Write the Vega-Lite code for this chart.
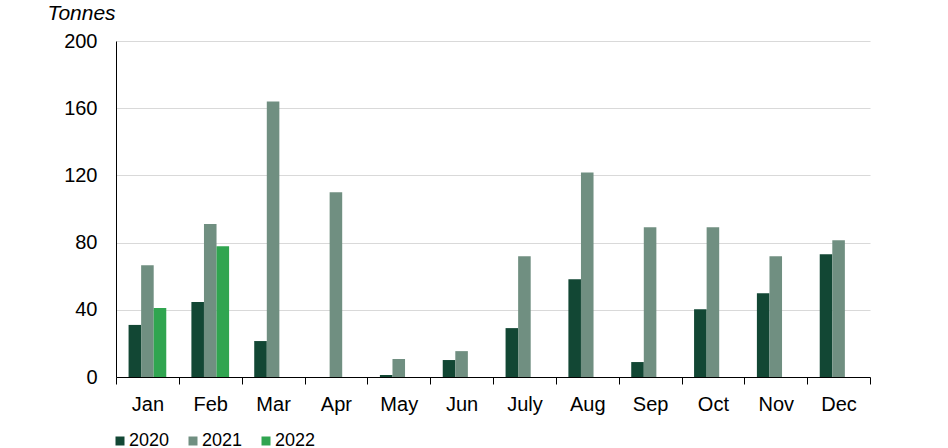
{
  "$schema": "https://vega.github.io/schema/vega-lite/v6.json",
  "width": 754,
  "height": 336,
  "autosize": "none",
  "padding": {"left": 116, "top": 41, "right": 78, "bottom": 71},
  "background": "white",
  "config": {
    "font": "Liberation Sans",
    "view": {"stroke": null}
  },
  "data": {
    "values": [
      {"month": "Jan", "year": "2020", "value": 31},
      {"month": "Jan", "year": "2021", "value": 66.5},
      {"month": "Jan", "year": "2022", "value": 41},
      {"month": "Feb", "year": "2020", "value": 44.6},
      {"month": "Feb", "year": "2021", "value": 91},
      {"month": "Feb", "year": "2022", "value": 77.8},
      {"month": "Mar", "year": "2020", "value": 21.4},
      {"month": "Mar", "year": "2021", "value": 164},
      {"month": "Apr", "year": "2020", "value": 0},
      {"month": "Apr", "year": "2021", "value": 110},
      {"month": "May", "year": "2020", "value": 1.2},
      {"month": "May", "year": "2021", "value": 10.7},
      {"month": "Jun", "year": "2020", "value": 10.1},
      {"month": "Jun", "year": "2021", "value": 15.4},
      {"month": "July", "year": "2020", "value": 29.1},
      {"month": "July", "year": "2021", "value": 71.9},
      {"month": "Aug", "year": "2020", "value": 58.2},
      {"month": "Aug", "year": "2021", "value": 121.8},
      {"month": "Sep", "year": "2020", "value": 8.9},
      {"month": "Sep", "year": "2021", "value": 89.1},
      {"month": "Oct", "year": "2020", "value": 40.4},
      {"month": "Oct", "year": "2021", "value": 89.1},
      {"month": "Nov", "year": "2020", "value": 49.9},
      {"month": "Nov", "year": "2021", "value": 71.9},
      {"month": "Dec", "year": "2020", "value": 73.1},
      {"month": "Dec", "year": "2021", "value": 81.4}
    ]
  },
  "mark": {"type": "bar"},
  "encoding": {
    "x": {
      "field": "month",
      "type": "nominal",
      "sort": ["Jan","Feb","Mar","Apr","May","Jun","July","Aug","Sep","Oct","Nov","Dec"],
      "scale": {"paddingInner": 0, "paddingOuter": 0},
      "axis": {
        "title": null,
        "labelAngle": 0,
        "labelFontSize": 20,
        "labelColor": "black",
        "labelPadding": 10,
        "tickBand": "extent",
        "tickSize": 7,
        "tickColor": "black",
        "domainColor": "black",
        "grid": false
      }
    },
    "xOffset": {
      "field": "year",
      "type": "nominal",
      "scale": {"domain": ["2020","2021","2022"], "paddingInner": 0, "paddingOuter": 1.118}
    },
    "y": {
      "field": "value",
      "type": "quantitative",
      "scale": {"domain": [0, 200], "nice": false},
      "axis": {
        "values": [0, 40, 80, 120, 160, 200],
        "title": "Tonnes",
        "titleAngle": 0,
        "titleFontStyle": "italic",
        "titleFontWeight": "normal",
        "titleFontSize": 21,
        "titleColor": "black",
        "titleAlign": "left",
        "titleBaseline": "alphabetic",
        "titleX": -69,
        "titleY": -22,
        "labelFontSize": 20,
        "labelColor": "black",
        "labelPadding": 19,
        "ticks": false,
        "domainColor": "black",
        "gridColor": "#d9d9d9",
        "gridWidth": 1
      }
    },
    "color": {
      "field": "year",
      "type": "nominal",
      "scale": {"domain": ["2020","2021","2022"], "range": ["#124734", "#708f81", "#30a550"]},
      "legend": {
        "title": null,
        "orient": "none",
        "direction": "horizontal",
        "legendX": -5,
        "legendY": 391,
        "symbolType": "square",
        "symbolSize": 81,
        "symbolStrokeWidth": 0,
        "symbolOpacity": 1,
        "labelFontSize": 18,
        "labelColor": "black",
        "labelOffset": 0,
        "columnPadding": 14,
        "padding": 0
      }
    }
  }
}
